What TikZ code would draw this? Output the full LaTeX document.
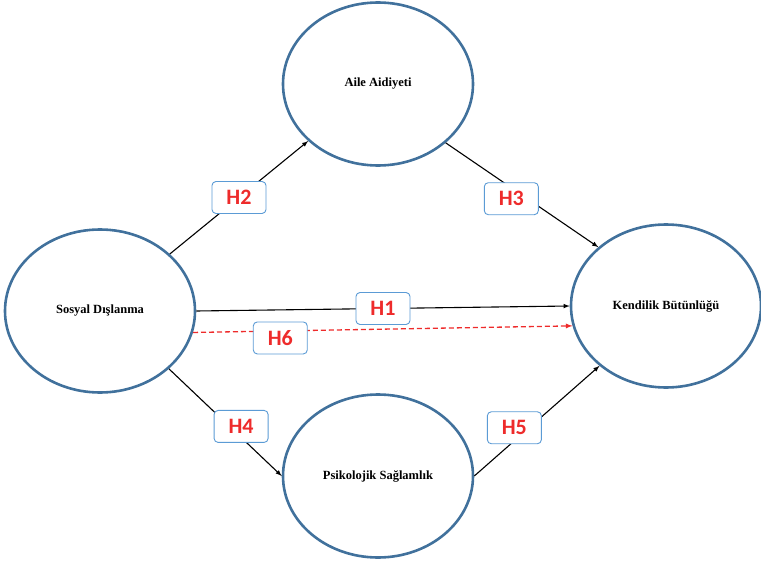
\documentclass[tikz,border=0pt]{standalone}
\usepackage{fontspec}
\setmainfont{Liberation Serif}
\newfontfamily\hypfont{Carlito}
\usetikzlibrary{shapes.geometric}
\definecolor{ringblue}{HTML}{41719C}
\definecolor{boxblue}{HTML}{5B9BD5}
\definecolor{hypred}{HTML}{EE2B2B}
\tikzset{
  construct/.style={ellipse, draw=ringblue, line width=2.6pt, minimum width=190pt, minimum height=163pt, inner sep=0pt, font=\bfseries\fontsize{12.5}{14}\selectfont},
  hyp/.style={draw=boxblue, fill=white, solid, rounded corners=4pt, line width=0.9pt, minimum width=54pt, minimum height=32pt, inner sep=0pt, text=hypred, font=\hypfont\bfseries\fontsize{22}{24}\selectfont},
  link/.style={-latex, line width=1.1pt}
}
\begin{document}
\begin{tikzpicture}[x=1pt,y=-1pt]
\useasboundingbox (0,0) rectangle (761,562);
\node[construct] (sd) at (100,311) {Sosyal Dışlanma};
\node[construct] (aa) at (378,84) {Aile Aidiyeti};
\node[construct] (kb) at (666,306) {Kendilik Bütünlüğü};
\node[construct] (ps) at (378,476) {Psikolojik Sağlamlık};
% paths
\draw[link] (sd) -- node[hyp] {H2} (aa);
\draw[link] (aa.-41) -- node[hyp, pos=0.43, yshift=-11pt] {H3} (kb.139);
\draw[link] (sd.east) -- node[hyp] {H1} (kb.west);
\draw[link, hypred, line width=1.3pt, dash pattern=on 5pt off 3pt] (sd.-13) -- node[hyp, pos=0.23, yshift=-7pt] {H6} (kb.192);
\draw[link] (sd.-40) -- node[hyp, pos=0.64, yshift=11pt] {H4} (ps.west);
\draw[link] (ps.east) -- node[hyp, pos=0.32, yshift=13pt] {H5} (kb.222);
\end{tikzpicture}
\end{document}
